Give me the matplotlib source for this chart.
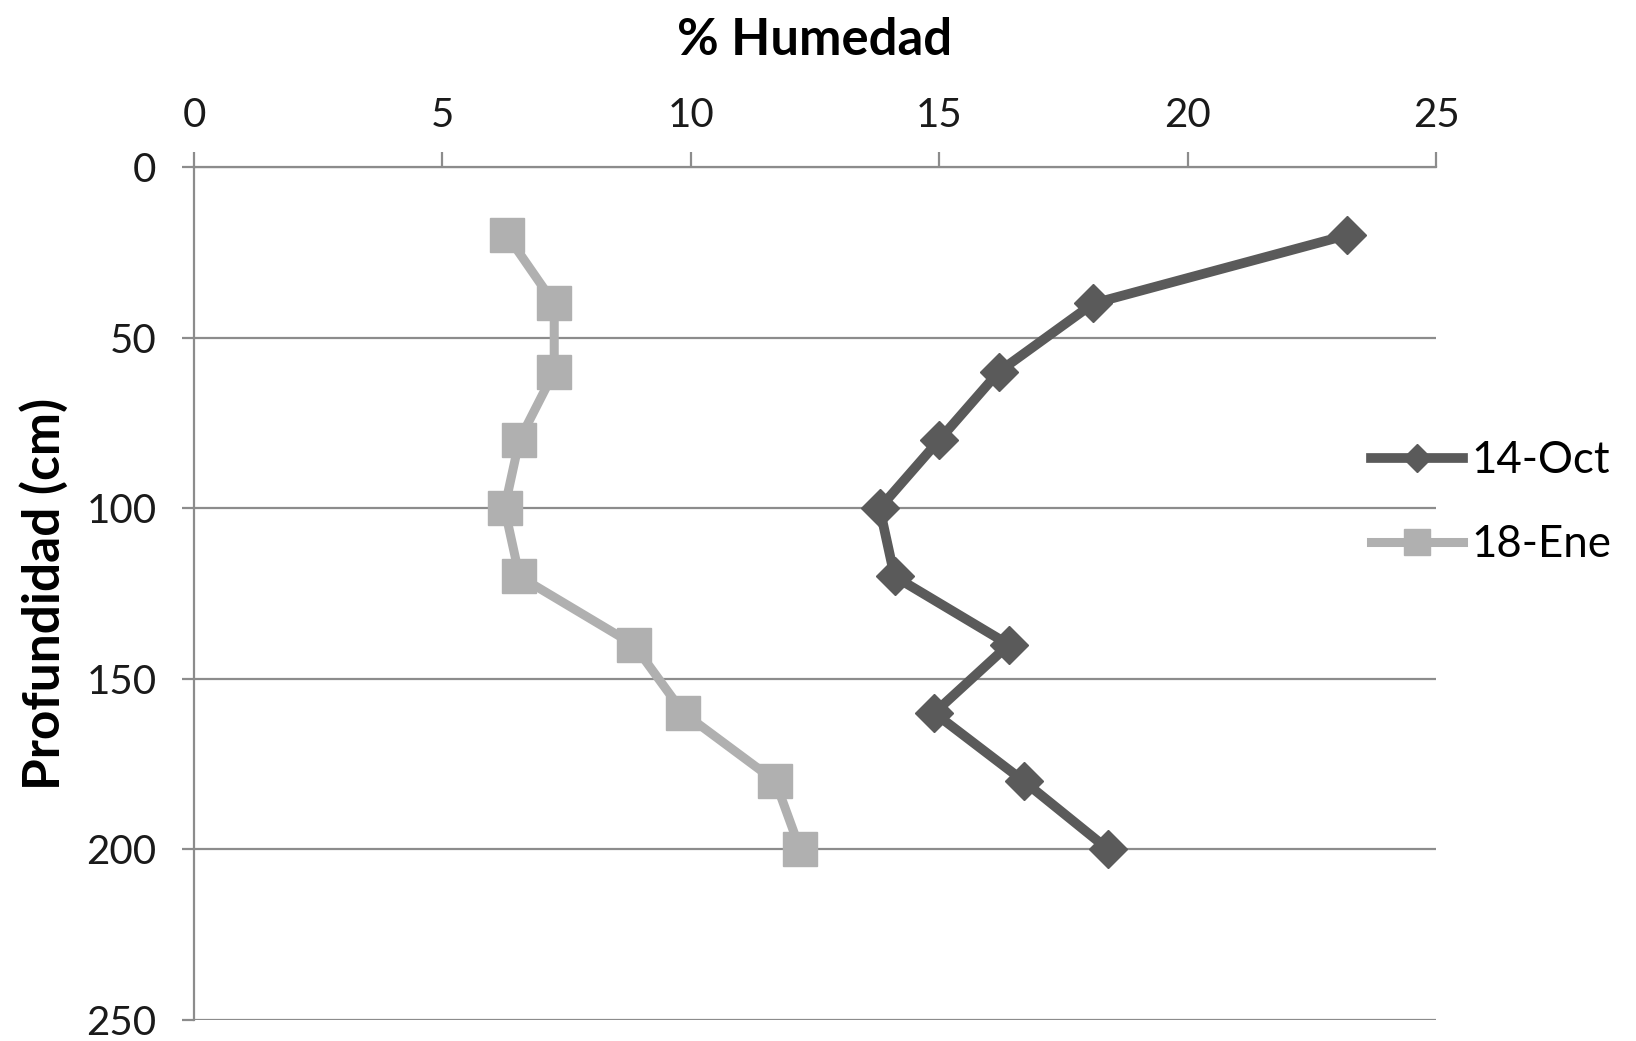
import matplotlib
matplotlib.use("Agg")
import matplotlib.pyplot as plt

plt.rcParams['font.family'] = ['Lato', 'DejaVu Sans']

# soil moisture profile (% humidity by depth in cm)
depth = [20, 40, 60, 80, 100, 120, 140, 160, 180, 200]
hum_oct = [23.2, 18.1, 16.2, 15.0, 13.8, 14.1, 16.4, 14.9, 16.7, 18.4]
hum_ene = [6.3, 7.25, 7.25, 6.55, 6.25, 6.55, 8.85, 9.85, 11.7, 12.2]
labels = ['14-Oct', '18-Ene']

grid_col = '#8c8c8c'

fig = plt.figure(figsize=(16.36, 10.41), dpi=100)
ax = fig.add_axes([0.1186, 0.0202, 0.7592, 0.8194])

ax.plot(hum_oct, depth, color='#5a5a5a', lw=7, marker='D', ms=19,
        label=labels[0], zorder=3)
ax.plot(hum_ene, depth, color='#b0b0b0', lw=6.5, marker='s', ms=25,
        label=labels[1], zorder=3)

ax.set_xlim(0, 25)
ax.set_ylim(250, 0)
ax.set_xticks(range(0, 26, 5))
ax.set_yticks(range(0, 251, 50))
ax.xaxis.tick_top()
ax.xaxis.set_label_position('top')

ax.yaxis.grid(True, color=grid_col, lw=1.6)
ax.set_axisbelow(True)
for s in ['right', 'bottom']:
    ax.spines[s].set_visible(False)
for s in ['top', 'left']:
    ax.spines[s].set_color(grid_col)
    ax.spines[s].set_linewidth(1.6)

ax.tick_params(axis='x', length=11, width=1.6, color=grid_col,
               labelsize=29, pad=13, labelcolor='#1a1a1a')
ax.tick_params(axis='y', length=9, width=1.6, color=grid_col,
               labelsize=29, pad=18, labelcolor='#1a1a1a')

ax.set_xlabel('% Humedad', fontsize=36.5, fontweight='bold', labelpad=30)
ax.set_ylabel('Profundidad (cm)', fontsize=37, fontweight='bold', labelpad=13)

fig.legend(handles=ax.get_lines(), labels=labels, loc='center left',
           bbox_to_anchor=(0.838, 0.517), frameon=False, borderpad=0,
           borderaxespad=0, fontsize=31.5, handlelength=2.1,
           handletextpad=0.2, labelspacing=0.98, markerscale=0.75)

fig.savefig('out.png', dpi=100)
